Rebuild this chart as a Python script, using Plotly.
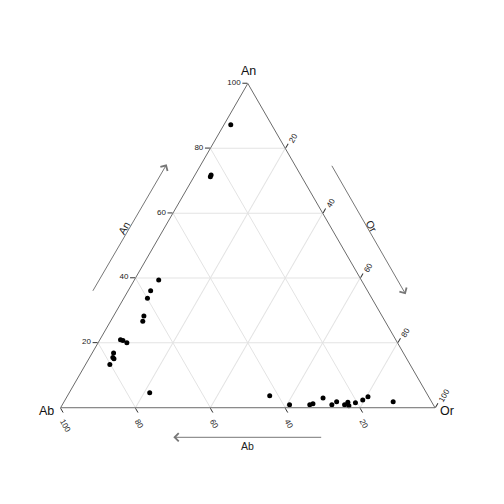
import plotly.graph_objects as go

# Feldspar compositions (%)
An = [87.3, 71.8, 71.2, 39.4, 36.1, 33.8, 28.3, 26.7, 21.0, 20.7, 20.0, 16.9, 15.5, 15.1, 13.3,
      4.6, 3.7, 0.9, 0.9, 1.2, 3.0, 0.9, 1.85, 0.9, 1.65, 0.6, 1.5, 2.4, 3.4, 1.85]
Or = [1.8, 4.3, 4.4, 6.5, 6.0, 6.3, 8.1, 8.6, 5.5, 6.3, 7.7, 5.7, 6.2, 6.7, 6.5,
      21.5, 54.0, 60.7, 66.1, 66.8, 68.6, 72.0, 72.8, 75.4, 75.9, 76.7, 78.0, 79.5, 80.4, 87.9]
Ab = [round(100 - a - o, 2) for a, o in zip(An, Or)]

major_ticks = [20, 40, 60, 80, 100]
minor_ticks = [10, 30, 50, 70, 90]
vertex_titles = ["An", "Ab", "Or"]

FONT = "Liberation Sans, Arial, sans-serif"
LINE = "#6b6b6b"
GRID = "#e3e3e3"
OFF = 8  # page body margin in px

fig = go.Figure()
fig.add_trace(go.Scatterternary(
    a=An, b=Ab, c=Or, mode="markers",
    marker=dict(color="black", size=5),
    cliponaxis=False, showlegend=False,
))

cx, cy = 239.8, 237.6  # domain centre in figure px from left / from top
dom = dict(x=[(cx - 187.2) / 504, (cx + 187.2) / 504],
           y=[1 - (cy + 170) / 504, 1 - (cy - 170) / 504])


def ax(**kw):
    return dict(
        title=dict(text=""),
        min=0, tickvals=major_ticks, ticktext=[str(v) for v in major_ticks],
        ticks="outside", ticklen=5, tickcolor="#333", tickwidth=1,
        tickfont=dict(family=FONT, size=8, color="#222"),
        showline=True, linecolor=LINE, linewidth=1,
        showgrid=True, gridcolor=GRID, gridwidth=1, **kw,
    )


def minor_ax():
    return dict(
        title=dict(text=""), min=0, tickvals=minor_ticks,
        ticks="outside", ticklen=3, tickcolor="#333", tickwidth=1,
        showticklabels=False, showline=False, showgrid=False,
    )


fig.update_layout(
    width=504, height=504,
    margin=dict(l=0, r=0, t=0, b=0),
    paper_bgcolor="white",
    ternary=dict(
        domain=dom, sum=100, bgcolor="white",
        aaxis=ax(), baxis=ax(tickangle=60), caxis=ax(tickangle=-60),
    ),
    ternary2=dict(
        domain=dom, sum=100, bgcolor="rgba(0,0,0,0)",
        aaxis=minor_ax(), baxis=minor_ax(), caxis=minor_ax(),
    ),
    showlegend=False,
)

ARROW = "#777777"


def P(x, y):
    return (x - OFF) / 504, 1 - (y - OFF) / 504


annots = []
for (hx, hy), (tx, ty) in [((166.7, 164.3), (92, 292.3)),
                           ((405.7, 294.3), (331, 164.3)),
                           ((173.3, 437.3), (322.7, 437.3))]:
    x, y = P(hx, hy)
    annots.append(dict(x=x, y=y, xref="paper", yref="paper", text="", showarrow=True,
                       ax=tx - hx, ay=ty - hy, arrowhead=4, arrowsize=1.6,
                       arrowwidth=1, arrowcolor=ARROW))
for (x0, y0), t, ang in [((124.3, 228.3), vertex_titles[0], -60),
                         ((371.7, 225.7), vertex_titles[2], 60),
                         ((247.3, 445.5), vertex_titles[1], 0)]:
    x, y = P(x0, y0)
    annots.append(dict(x=x, y=y, xref="paper", yref="paper", text=t, showarrow=False,
                       xanchor="center", yanchor="middle",
                       textangle=ang, font=dict(family=FONT, size=10.5, color="#222")))
for (x0, y0), t in [((248.3, 71), vertex_titles[0]), ((46, 411), vertex_titles[1]),
                    ((446.5, 411), vertex_titles[2])]:
    x, y = P(x0, y0)
    annots.append(dict(x=x, y=y, xref="paper", yref="paper", text=t, showarrow=False,
                       xanchor="center", yanchor="middle",
                       font=dict(family=FONT, size=12.5, color="#111")))
fig.update_layout(annotations=annots)

fig.write_html("out.html")
